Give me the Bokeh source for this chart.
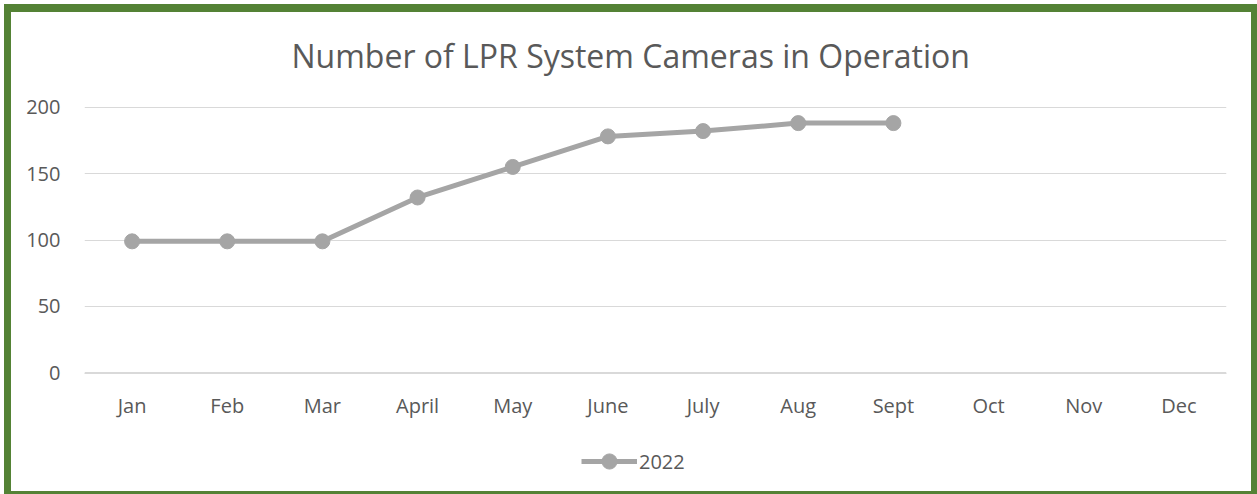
from bokeh.plotting import figure
from bokeh.models import Range1d, Legend, LegendItem, FactorRange
from bokeh.layouts import column
from bokeh.embed import file_html
from bokeh.resources import INLINE

months = ["Jan", "Feb", "Mar", "April", "May", "June", "July", "Aug", "Sept", "Oct", "Nov", "Dec"]
series_months = ["Jan", "Feb", "Mar", "April", "May", "June", "July", "Aug", "Sept"]
cameras_2022 = [99, 99, 99, 132, 155, 178, 182, 188, 188]
y_ticks = [0, 50, 100, 150, 200]
series_name = "2022"

FONT = "Open Sans"
TXT = "#595959"
LINE = "#a5a5a5"
GRID = "#d9d9d9"
GREEN = "#548235"

W = 1257
H_MAIN, H_LEG = 440, 54

p = figure(
    x_range=FactorRange(*months, range_padding=0),
    y_range=Range1d(-0.5, 200.5),
    width=W, height=H_MAIN,
    output_backend="svg", toolbar_location=None,
    min_border_left=84, min_border_right=31, min_border_top=106, min_border_bottom=67,
    title="Number of LPR System Cameras in Operation",
)
p.outline_line_color = None
p.background_fill_color = "white"
p.border_fill_alpha = 0

p.title.align = "left"
p.title.offset = 207
p.title.text_font = FONT
p.title.text_font_size = "32px"
p.title.text_font_style = "normal"
p.title.text_color = TXT
p.title.standoff = 60

line = p.line(series_months, cameras_2022, line_color=LINE, line_width=5)
pts = p.scatter(series_months, cameras_2022, size=15, fill_color=LINE, line_color=LINE)

p.xgrid.grid_line_color = None
p.ygrid.grid_line_color = GRID
p.ygrid.grid_line_width = 1
p.yaxis.ticker = y_ticks

for ax in (p.xaxis[0], p.yaxis[0]):
    ax.major_tick_line_color = None
    ax.minor_tick_line_color = None
    ax.major_label_text_font = FONT
    ax.major_label_text_font_size = "20px"
    ax.major_label_text_color = TXT
p.yaxis.axis_line_color = None
p.xaxis.axis_line_color = GRID
p.xaxis.major_label_standoff = 12
p.yaxis.major_label_standoff = 18

# legend strip below the chart
lg = figure(
    x_range=FactorRange(*months), y_range=Range1d(1000, 1001),
    width=W, height=H_LEG, output_backend="svg", toolbar_location=None,
    x_axis_location=None, y_axis_location=None,
    min_border_left=0, min_border_right=0, min_border_top=0, min_border_bottom=0,
)
lg.outline_line_color = None
lg.background_fill_alpha = 0
lg.border_fill_alpha = 0
lg.xgrid.grid_line_color = None
lg.ygrid.grid_line_color = None
leg_line = lg.line(series_months, cameras_2022, line_color=LINE, line_width=5)
leg_pts = lg.scatter(series_months, cameras_2022, size=15, fill_color=LINE, line_color=LINE)

legend = Legend(
    items=[LegendItem(label=series_name, renderers=[leg_line, leg_pts])],
    location=(497, 14), orientation="horizontal",
    label_text_font=FONT, label_text_font_size="20px", label_text_color=TXT,
    glyph_width=56, glyph_height=38, border_line_color=None, background_fill_alpha=0,
    padding=0, margin=0, label_standoff=2,
)
lg.add_layout(legend, "center")

page = column(
    p, lg, spacing=0,
    styles={
        "background-color": "white",
        "box-shadow": f"inset 4px 4px 0 0 #ffffff, inset 11px 12px 0 0 {GREEN}, inset -6px -3px 0 0 {GREEN}",
    },
)

open("out.html", "w").write(file_html(page, INLINE))
